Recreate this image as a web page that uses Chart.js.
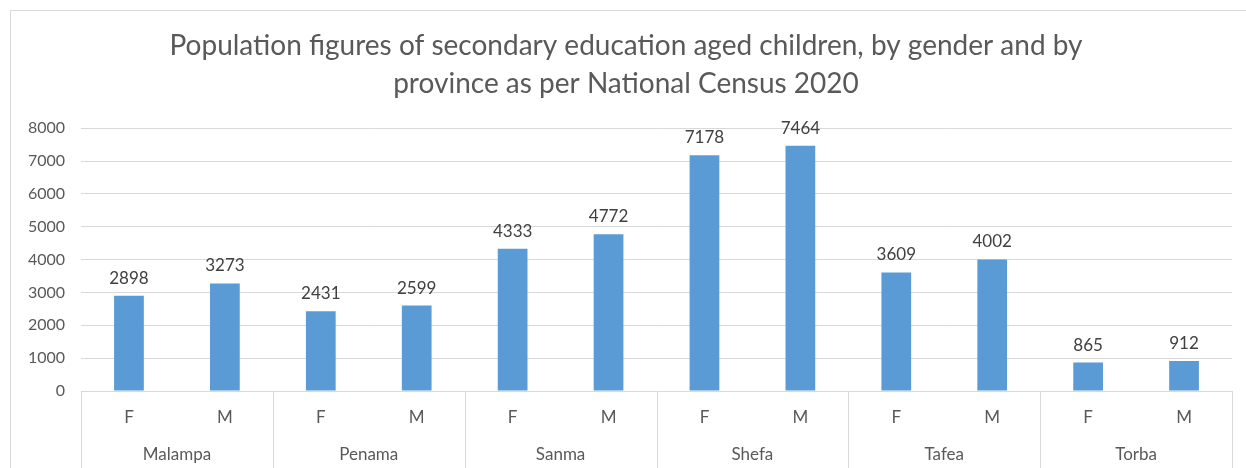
<!DOCTYPE html>
<html>
<head>
<meta charset="utf-8">
<script src="https://cdn.jsdelivr.net/npm/chart.js@4.4.1/dist/chart.umd.min.js"></script>
<style>
  html, body { margin: 0; padding: 0; background: #fff; overflow: hidden; }
  #frame {
    position: absolute; left: 10px; top: 10px;
    width: 1250px; height: 480px;
    border: 1px solid #d9d9d9; box-sizing: border-box;
  }
  #wrap { position: absolute; left: 0; top: 0; width: 1246px; height: 468px; }
</style>
</head>
<body>
<div id="frame"></div>
<div id="wrap"><canvas id="chart"></canvas></div>
<script>
const titleLines = [
  "Population figures of secondary education aged children, by gender and by",
  "province as per National Census 2020",
];
const provinces = ["Malampa", "Penama", "Sanma", "Shefa", "Tafea", "Torba"];
const genders = ["F", "M"];
const values = [2898, 3273, 2431, 2599, 4333, 4772, 7178, 7464, 3609, 4002, 865, 912];
const yTicks = [0, 1000, 2000, 3000, 4000, 5000, 6000, 7000, 8000];

const FONT = "Lato";
const TEXT = "#595959";
const LINE = "#d9d9d9";

const labels = [];
provinces.forEach(() => genders.forEach((g) => labels.push(g)));

// value labels above the bars + group separators of the two-level axis
const extras = {
  id: "extras",
  afterDatasetsDraw(chart) {
    const ctx = chart.ctx;
    const meta = chart.getDatasetMeta(0);
    ctx.save();
    ctx.font = "17px " + FONT;
    ctx.fillStyle = "#404040";
    ctx.textAlign = "center";
    ctx.textBaseline = "bottom";
    meta.data.forEach((bar, i) => {
      ctx.fillText(String(values[i]), bar.x, bar.y - 9);
    });
    ctx.restore();
  },
  afterDraw(chart) {
    const ctx = chart.ctx;
    const x = chart.scales.x;
    const step = x.width / provinces.length;
    ctx.save();
    ctx.strokeStyle = LINE;
    ctx.lineWidth = 1;
    ctx.beginPath();
    ctx.moveTo(x.left, x.top + 0.5);
    ctx.lineTo(x.right, x.top + 0.5);
    for (let i = 0; i <= provinces.length; i++) {
      const px = Math.round(x.left + i * step) + 0.5;
      ctx.moveTo(px, x.top);
      ctx.lineTo(px, chart.height);
    }
    ctx.stroke();
    ctx.restore();
  },
};

new Chart(document.getElementById("chart"), {
  type: "bar",
  data: {
    labels: labels,
    datasets: [{
      data: values,
      backgroundColor: "#5b9bd5",
      categoryPercentage: 1,
      barPercentage: 0.31,
    }],
  },
  options: {
    responsive: true,
    maintainAspectRatio: false,
    animation: false,
    layout: { padding: { left: 20, right: 14, top: 0, bottom: 0 } },
    plugins: {
      legend: { display: false },
      tooltip: { enabled: false },
      title: {
        display: true,
        text: titleLines,
        color: TEXT,
        font: { family: FONT, size: 28, weight: "normal", lineHeight: 1.36 },
        padding: { top: 27, bottom: 25 },
      },
    },
    scales: {
      y: {
        min: 0,
        max: 8000,
        afterBuildTicks(s) { s.ticks = yTicks.map((v) => ({ value: v })); },
        afterFit(s) { s.width = 61; },
        grid: { color: LINE, drawTicks: false },
        border: { display: false },
        ticks: {
          color: TEXT, padding: 16, font: { family: FONT, size: 16 },
          callback: (v) => String(v),
        },
      },
      x: {
        afterFit(s) { s.height = 40; },
        grid: { display: false, drawTicks: false },
        border: { display: false },
        ticks: { color: TEXT, padding: 16, maxRotation: 0, font: { family: FONT, size: 17 } },
      },
      x2: {
        type: "category",
        position: "bottom",
        labels: provinces,
        offset: true,
        afterFit(s) { s.height = 37; },
        grid: { display: false, drawTicks: false },
        border: { display: false },
        ticks: { color: TEXT, padding: 13, maxRotation: 0, font: { family: FONT, size: 17 } },
      },
    },
  },
  plugins: [extras],
});
</script>
</body>
</html>
